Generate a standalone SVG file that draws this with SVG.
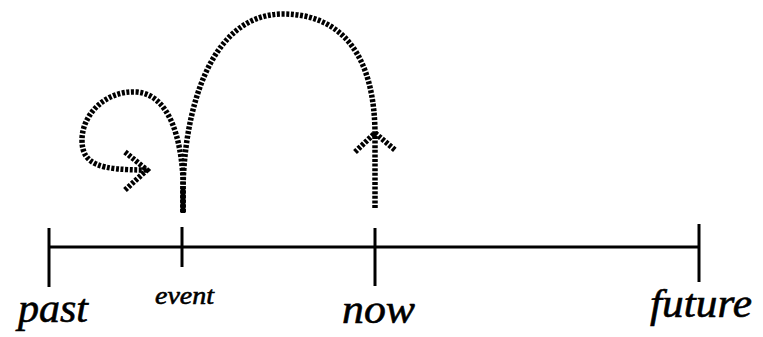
<svg xmlns="http://www.w3.org/2000/svg" width="763" height="337" viewBox="0 0 763 337">
<style>
.axis{stroke:#000;stroke-width:3;fill:none;stroke-linecap:butt}
.dot{stroke:#000;stroke-width:5.5;fill:none;stroke-dasharray:3 1.6}
.lbl{font-family:"Liberation Serif",serif;font-style:italic;fill:#000;stroke:#000;stroke-width:0.6}
</style>
<rect width="763" height="337" fill="#fff"/>
<g id="timeline">
<line class="axis" x1="49" y1="247" x2="700" y2="247"/>
</g>
<g id="past">
<line class="axis" x1="49" y1="228" x2="49" y2="287"/>
<text class="lbl" x="18" y="322" font-size="41" textLength="70" lengthAdjust="spacingAndGlyphs">past</text>
</g>
<g id="event">
<line class="axis" x1="182" y1="227" x2="182" y2="267"/>
<text class="lbl" x="155" y="304" font-size="26" textLength="59" lengthAdjust="spacingAndGlyphs">event</text>
</g>
<g id="now">
<line class="axis" x1="375" y1="228" x2="375" y2="286"/>
<text class="lbl" x="342" y="323" font-size="41" textLength="73" lengthAdjust="spacingAndGlyphs">now</text>
</g>
<g id="future">
<line class="axis" x1="699" y1="224" x2="699" y2="282"/>
<text class="lbl" x="650" y="317" font-size="41" textLength="102" lengthAdjust="spacingAndGlyphs">future</text>
</g>
<g id="connectors">
<line x1="183" y1="188" x2="183" y2="213" stroke="#000" stroke-width="5"/>
<path class="dot" d="M183,212 L183,178 C181,140 170,95 137,92 C105,90 82,115 82,140 C82,165 100,170 147,170"/>
<path class="dot" d="M125,152 L147,170 L125,190"/>
<path class="dot" d="M183,212 L183,190 C184,115 208,14 283,14 C345,14 375,60 375,135"/>
<path class="dot" d="M355,152 L375,133 L395,150"/>
<path class="dot" d="M375,208 L375,135"/>
</g>
</svg>
